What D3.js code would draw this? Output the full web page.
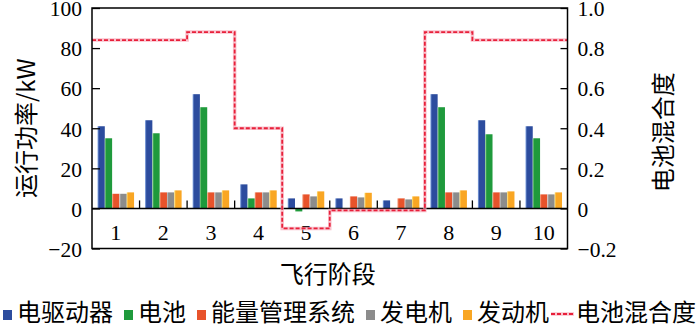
<!DOCTYPE html>
<html><head><meta charset="utf-8">
<script src="https://cdn.jsdelivr.net/npm/d3@7/dist/d3.min.js"></script>
<style>body{margin:0;background:#fff}svg{display:block}</style>
</head><body>
<svg id="c" width="700" height="326"></svg>
<script>
const categories = ["1","2","3","4","5","6","7","8","9","10"];
const seriesNames = ["电驱动器","电池","能量管理系统","发电机","发动机"];
const driveMotor = [41, 44, 57, 12, 5, 5, 4, 57, 44, 41];
const battery = [35, 37.5, 50.5, 5, -1.5, 0, 0, 50.5, 37, 35];
const energyMgmt = [7.3, 8, 8, 8, 7, 6, 5, 8, 8, 7];
const generator = [7.3, 8, 8, 8, 6, 5.5, 4.5, 8, 8, 7];
const engine = [8, 9, 9, 9, 8.5, 7.8, 6, 9, 8.5, 8];
const hybridDegree = [0.84, 0.84, 0.88, 0.40, -0.10, -0.01, -0.01, 0.88, 0.84, 0.84];
const leftTicks = [-20, 0, 20, 40, 60, 80, 100];
const rightTicks = [-0.2, 0, 0.2, 0.4, 0.6, 0.8, 1.0];
const lineName = "电池混合度";
const leftTitle = "运行功率/kW";
const rightTitle = "电池混合度";
const xTitle = "飞行阶段";

const colors = ["#2c4c9e", "#1f9a3c", "#e8532b", "#8c8c8c", "#f9a623"];
const light = ["#8fb0e8", "#8fd08f", "#f5a080", "#c8c8c8", "#ffe070"];
const seriesValues = [driveMotor, battery, energyMgmt, generator, engine];

const svg = d3.select("#c");
const L = 92, R = 567.5, T = 8, B = 248.5;
const x0 = d3.scaleBand().domain(categories).range([L, R]).padding(0);
const x1 = d3.scaleBand().domain(seriesNames).range([0, x0.bandwidth()]).paddingInner(0).paddingOuter(0.75);
const y = d3.scaleLinear().domain([-20, 100]).range([B, T]);
const y2 = d3.scaleLinear().domain([-0.2, 1.0]).range([B, T]);
const serif = "'Liberation Serif','DejaVu Serif',serif";
const cjk = "'Noto Sans CJK SC','Noto Sans',sans-serif";

const defs = svg.append("defs");
colors.forEach((c, i) => {
  const g = defs.append("linearGradient").attr("id", "g" + i).attr("x1", 0).attr("x2", 1).attr("y1", 0).attr("y2", 0);
  g.append("stop").attr("offset", "0%").attr("stop-color", light[i]);
  g.append("stop").attr("offset", "22%").attr("stop-color", c);
  g.append("stop").attr("offset", "100%").attr("stop-color", c);
});

// bars
seriesNames.forEach((s, si) => {
  svg.append("g").selectAll("rect").data(seriesValues[si]).join("rect")
    .attr("x", (d, i) => x0(categories[i]) + x1(s))
    .attr("width", x1.bandwidth())
    .attr("y", d => y(Math.max(0, d)))
    .attr("height", d => Math.abs(y(d) - y(0)))
    .attr("fill", "url(#g" + si + ")");
});

// zero axis line with inner ticks between groups
svg.append("line").attr("x1", L).attr("x2", R).attr("y1", y(0)).attr("y2", y(0))
  .attr("stroke", "#000").attr("stroke-width", 1.5);
svg.append("g").selectAll("line").data(categories.slice(1)).join("line")
  .attr("x1", d => x0(d)).attr("x2", d => x0(d))
  .attr("y1", y(0)).attr("y2", y(0) - 8)
  .attr("stroke", "#000").attr("stroke-width", 1.3);

// category labels
svg.append("g").selectAll("text").data(categories).join("text")
  .attr("x", d => x0(d) + x0.bandwidth() / 2)
  .attr("y", 240)
  .attr("text-anchor", "middle")
  .attr("font-family", serif).attr("font-size", 22)
  .text(d => d);

// step line
const stepPts = categories.map((c, i) => [x0(c), hybridDegree[i]]);
stepPts.push([R, hybridDegree[hybridDegree.length - 1]]);
const stepLine = d3.line().x(d => d[0]).y(d => y2(d[1])).curve(d3.curveStepAfter);
svg.append("path").attr("d", stepLine(stepPts)).attr("fill", "none")
  .attr("stroke", "#f7a8b8").attr("stroke-width", 3.5).attr("stroke-opacity", 0.7);
svg.append("path").attr("d", stepLine(stepPts)).attr("fill", "none")
  .attr("stroke", "#e8203a").attr("stroke-width", 1.8).attr("stroke-dasharray", "4,2");

// left axis
const axL = d3.axisLeft(y).tickValues(leftTicks).tickSize(-8).tickPadding(10)
  .tickFormat(d => d < 0 ? "\u2212" + Math.abs(d) : d);
const gL = svg.append("g").attr("transform", `translate(${L},0)`).call(axL);
gL.select(".domain").remove();
gL.selectAll("line").attr("stroke-width", 1.3);
gL.selectAll("text").attr("font-family", serif).attr("font-size", 21.5).attr("fill", "#000").attr("dy", "0.36em");

// right axis
const axR = d3.axisRight(y2).tickValues(rightTicks).tickSize(-7).tickPadding(10)
  .tickFormat(d => d === 0 ? "0" : (d < 0 ? "\u2212" + d3.format(".1f")(Math.abs(d)) : d3.format(".1f")(d)));
const gR = svg.append("g").attr("transform", `translate(${R},0)`).call(axR);
gR.select(".domain").remove();
gR.selectAll("line").attr("stroke-width", 1.3);
gR.selectAll("text").attr("font-family", serif).attr("font-size", 21.5).attr("fill", "#000").attr("dy", "0.36em");

// frame
svg.append("rect").attr("x", L).attr("y", T).attr("width", R - L).attr("height", B - T)
  .attr("fill", "none").attr("stroke", "#000").attr("stroke-width", 1.5);

// axis titles
svg.append("text").attr("transform", `translate(35,${(T + B) / 2}) rotate(-90)`)
  .attr("text-anchor", "middle").attr("font-family", cjk).attr("font-size", 24).text(leftTitle);
svg.append("text").attr("transform", `translate(672,${(T + B) / 2 + 4}) rotate(-90)`)
  .attr("text-anchor", "middle").attr("font-family", cjk).attr("font-size", 24).text(rightTitle);
svg.append("text").attr("x", (L + R) / 2 - 2).attr("y", 283)
  .attr("text-anchor", "middle").attr("font-family", cjk).attr("font-size", 24).text(xTitle);

// legend
const leg = svg.append("g");
let lx = 3;
const ly = 321;
seriesNames.forEach((s, i) => {
  leg.append("rect").attr("x", lx).attr("y", 310).attr("width", 9).attr("height", 10).attr("fill", colors[i]);
  const t = leg.append("text").attr("x", lx + 14).attr("y", ly).attr("font-family", cjk).attr("font-size", 24).text(s);
  lx = lx + 14 + t.node().getComputedTextLength() + 11;
});
lx -= 9;
leg.append("line").attr("x1", lx).attr("x2", lx + 23).attr("y1", 314).attr("y2", 314)
  .attr("stroke", "#f7a8b8").attr("stroke-width", 3.5).attr("stroke-opacity", 0.7);
leg.append("line").attr("x1", lx).attr("x2", lx + 23).attr("y1", 314).attr("y2", 314)
  .attr("stroke", "#e8203a").attr("stroke-width", 1.8).attr("stroke-dasharray", "4,2");
leg.append("text").attr("x", lx + 25).attr("y", ly).attr("font-family", cjk).attr("font-size", 24).text(lineName);
</script>
</body></html>
